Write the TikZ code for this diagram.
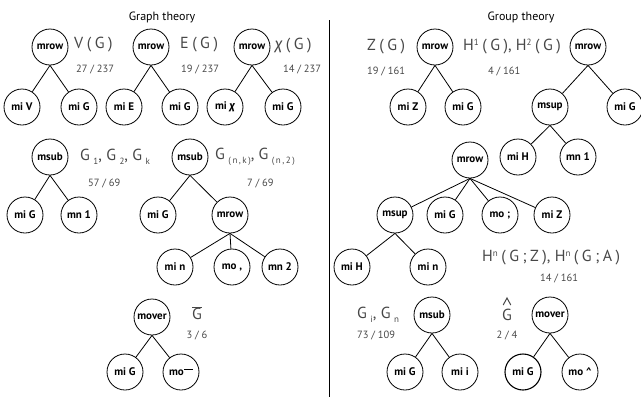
\documentclass[tikz,border=0pt]{standalone}
\usepackage{fontspec}
\setmainfont{PT Sans}
\newfontfamily\greekfont{Fira Sans}

\begin{document}
\begin{tikzpicture}[x=1pt,y=-1pt,
  tn/.style={circle, draw, line width=0.8pt, minimum size=36pt, inner sep=0pt,
             font=\fontsize{11}{11}\selectfont\bfseries},
  tnb/.style={tn, line width=1.1pt},
  edge/.style={line width=0.8pt},
  formula/.style={text=black!72, font=\fontsize{16}{17}\selectfont, inner sep=0pt},
  count/.style={text=black!72, font=\fontsize{10.5}{12}\selectfont, inner sep=0pt},
  title/.style={font=\fontsize{12}{14}\selectfont, inner sep=0pt}
]
\newcommand{\gp}{\hspace{3.5pt}}
\newcommand{\sbx}[1]{\raisebox{-3.5pt}{\fontsize{9}{9}\selectfont #1}}
\newcommand{\spx}[1]{\raisebox{5pt}{\fontsize{9}{9}\selectfont #1}}
\path[use as bounding box] (0,0) rectangle (641,397);

% titles and divider
\node[title] (tg) at (162,17) {Graph theory};
\node[title] (tgr) at (521,17) {Group theory};
\coordinate (divtop) at (329,20);
\coordinate (divbot) at (329,397);
\draw[line width=0.9pt] (divtop) -- (divbot);

% ---------- Graph theory ----------
% V(G)
\node[tn] (a0) at (50,47) {mrow};
\node[tn] (a1) at (22,107) {mi V};
\node[tn] (a2) at (79,107) {mi G};
\draw[edge] (a0.south) -- (a1);
\draw[edge] (a0.south) -- (a2);
\node[formula,anchor=west] (fa) at (74,45) {V\gp(\gp G\gp)};
\node[count,anchor=west] (ca) at (76,69) {27 / 237};

% E(G)
\node[tn] (b0) at (151,47) {mrow};
\node[tn] (b1) at (124,107) {mi E};
\node[tn] (b2) at (180,107) {mi G};
\draw[edge] (b0.south) -- (b1);
\draw[edge] (b0.south) -- (b2);
\node[formula,anchor=west] (fb) at (180,45) {E\gp(\gp G\gp)};
\node[count,anchor=west] (cb) at (181,69) {19 / 237};

% chi(G)
\node[tn] (c0) at (252,47) {mrow};
\node[tn] (c1) at (225,107) {mi {\greekfont\itshape χ}};
\node[tn] (c2) at (283,107) {mi G};
\draw[edge] (c0.south) -- (c1);
\draw[edge] (c0.south) -- (c2);
\node[formula,anchor=west] (fc) at (275,46) {{\greekfont\itshape χ}\gp(\gp G\gp)};
\node[count,anchor=west] (cc) at (283,69) {14 / 237};

% G_1, G_2, G_k
\node[tn] (d0) at (50,157) {msub};
\node[tn] (d1) at (25,215) {mi G};
\node[tn] (d2) at (79,215) {mn 1};
\draw[edge] (d0.south) -- (d1);
\draw[edge] (d0.south) -- (d2);
\node[formula,anchor=west] (fd) at (80,157) {G\gp\sbx{1}, G\gp\sbx{2}, G\gp\sbx{k}};
\node[count,anchor=west] (cd) at (88,183) {57 / 69};

% G_(n,k), G_(n,2)
\node[tn] (e0) at (190,157) {msub};
\node[tn] (e1) at (158,215) {mi G};
\node[tn] (e2) at (230,215) {mrow};
\node[tn] (e3) at (175,267) {mi n};
\node[tn] (e4) at (232,267) {mo ,};
\node[tn] (e5) at (280,267) {mn 2};
\draw[edge] (e0.south) -- (e1);
\draw[edge] (e0.south) -- (e2);
\draw[edge] (e2.south) -- (e3);
\draw[edge] (e2.south) -- (e4);
\draw[edge] (e2.south) -- (e5);
\node[formula,anchor=west] (fe) at (215,157) {G\gp\sbx{(\,n\,,\,k\,)}, G\gp\sbx{(\,n\,,\,2\,)}};
\node[count,anchor=west] (ce) at (247,183) {7 / 69};

% G bar
\node[tn] (g0) at (152,317) {mover};
\node[tn] (g1) at (125,372) {mi G};
\node[tn] (g2) at (181,372) {mo\raisebox{6pt}{\rule{9pt}{0.5pt}}};
\draw[edge] (g0.south) -- (g1);
\draw[edge] (g0.south) -- (g2);
\node[formula] (fg) at (197,313) {$\overline{\mbox{G}}$};
\node[count] (cg) at (197,335) {3 / 6};

% ---------- Group theory ----------
% Z(G)
\node[tn] (h0) at (435,47) {mrow};
\node[tn] (h1) at (408,107) {mi Z};
\node[tn] (h2) at (463,107) {mi G};
\draw[edge] (h0.south) -- (h1);
\draw[edge] (h0.south) -- (h2);
\node[formula,anchor=west] (fh) at (367,47) {Z\gp(\gp G\gp)};
\node[count,anchor=west] (ch) at (367,71) {19 / 161};

% H^1(G), H^2(G)
\node[tn] (i0) at (588,47) {mrow};
\node[tn] (i1) at (550,107) {msup};
\node[tn] (i2) at (625,107) {mi G};
\node[tn] (i3) at (518,157) {mi H};
\node[tn] (i4) at (578,157) {mn 1};
\draw[edge] (i0.south) -- (i1);
\draw[edge] (i0.south) -- (i2);
\draw[edge] (i1.south) -- (i3);
\draw[edge] (i1.south) -- (i4);
\node[formula,anchor=west] (fi) at (463,47) {H\spx{1}\gp(\gp G\gp), H\spx{2}\gp(\gp G\gp)};
\node[count,anchor=west] (ci) at (488,71) {4 / 161};

% H^n(G;Z), H^n(G;A)
\node[tn] (j0) at (470,160) {mrow};
\node[tn] (j1) at (395,215) {msup};
\node[tn] (j2) at (445,215) {mi G};
\node[tn] (j3) at (500,215) {mo ;};
\node[tn] (j4) at (552,215) {mi Z};
\node[tn] (j5) at (352,267) {mi H};
\node[tn] (j6) at (428,267) {mi n};
\draw[edge] (j0.south) -- (j1);
\draw[edge] (j0.south) -- (j2);
\draw[edge] (j0.south) -- (j3);
\draw[edge] (j0.south) -- (j4);
\draw[edge] (j1.south) -- (j5);
\draw[edge] (j1.south) -- (j6);
\node[formula,anchor=west] (fj) at (482,258) {H\spx{n}\gp(\gp G\gp;\gp Z\gp), H\spx{n}\gp(\gp G\gp;\gp A\gp)};
\node[count,anchor=west] (cj) at (540,278) {14 / 161};

% G_i, G_n
\node[tn] (k0) at (432,315) {msub};
\node[tn] (k1) at (405,372) {mi G};
\node[tn] (k2) at (460,372) {mi i};
\draw[edge] (k0.south) -- (k1);
\draw[edge] (k0.south) -- (k2);
\node[formula,anchor=west] (fk) at (357,315) {G\gp\sbx{i}, G\gp\sbx{n}};
\node[count,anchor=west] (ck) at (357,335) {73 / 109};

% G hat: letter with a drawn caret accent above it
\node[tn] (l0) at (550,315) {mover};
\node[tnb] (l1) at (523,372) {mi G};
\node[tn] (l2) at (580,372) {mo \textasciicircum};
\draw[edge] (l0.south) -- (l1);
\draw[edge] (l0.south) -- (l2);
\node[formula] (fl) at (507,315) {G};
\draw[black!72, line width=1pt, line join=miter]
  ([xshift=-3.8pt,yshift=4pt]fl.north) -- ([yshift=11pt]fl.north) -- ([xshift=3.8pt,yshift=4pt]fl.north);
\node[count] (cl) at (507,335) {2 / 4};
\end{tikzpicture}
\end{document}
